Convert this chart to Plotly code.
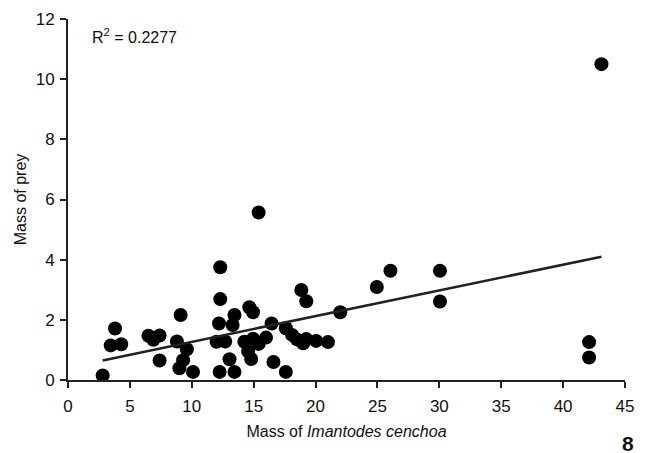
import numpy as np
import plotly.graph_objects as go

# Mass of Imantodes cenchoa (x) and mass of prey (y)
snake_mass = [
    2.8, 3.8, 3.45, 4.3, 6.5, 6.9, 7.4, 9.1, 8.8, 9.6,
    7.4, 9.3, 9.0, 10.1, 12.3, 12.2, 13.3, 12.0, 12.7, 13.05,
    12.25, 13.45, 13.45, 15.4, 12.3, 14.65, 14.95, 14.25, 14.95, 15.4,
    16.0, 14.55, 14.8, 16.45, 16.6, 17.6, 17.6, 18.1, 18.5, 19.0,
    19.25, 20.05, 21.0, 18.85, 19.25, 22.0, 24.95, 26.05, 30.05, 30.05,
    42.1, 42.1, 43.1,
]
prey_mass = [
    0.15, 1.71, 1.15, 1.19, 1.47, 1.34, 1.48, 2.16, 1.28, 1.02,
    0.65, 0.66, 0.39, 0.27, 2.69, 1.88, 1.83, 1.27, 1.28, 0.69,
    0.27, 0.27, 2.16, 5.57, 3.75, 2.42, 2.25, 1.27, 1.37, 1.2,
    1.41, 0.95, 0.7, 1.88, 0.6, 0.27, 1.72, 1.5, 1.35, 1.22,
    1.36, 1.3, 1.26, 2.99, 2.62, 2.25, 3.09, 3.63, 3.63, 2.61,
    1.26, 0.75, 10.5,
]
x_ticks = [0, 5, 10, 15, 20, 25, 30, 35, 40, 45]
y_ticks = [0, 2, 4, 6, 8, 10, 12]
r2_label = "R<sup>2</sup> = 0.2277"
panel_label = "8"

xs = np.array(snake_mass)
ys = np.array(prey_mass)
slope, intercept = np.polyfit(xs, ys, 1)
fit_x = np.array([xs.min(), xs.max()])
fit_y = slope * fit_x + intercept

FONT = "Liberation Sans, Arial, sans-serif"

fig = go.Figure()
fig.add_trace(go.Scatter(
    x=snake_mass, y=prey_mass, mode="markers",
    marker=dict(color="black", size=14, line=dict(width=0)),
    showlegend=False, hoverinfo="x+y",
))
fig.add_trace(go.Scatter(
    x=fit_x, y=fit_y, mode="lines",
    line=dict(color="#222222", width=2.6),
    showlegend=False, hoverinfo="skip",
))

axis_common = dict(
    showgrid=False, zeroline=False, showline=True, linecolor="#222222",
    linewidth=2, ticks="outside", ticklen=6, tickwidth=1.5, tickcolor="#222222",
    tickfont=dict(family=FONT, size=17, color="#111111"),
    automargin=False,
)
fig.update_xaxes(
    range=[0, 45], tickvals=x_ticks, ticktext=[str(v) for v in x_ticks],
    ticklabelstandoff=4,
    title=dict(text="Mass of <i>Imantodes cenchoa</i>", standoff=10,
               font=dict(family=FONT, size=16, color="#111111")),
    **axis_common,
)
fig.update_yaxes(
    range=[0, 12], tickvals=y_ticks, ticktext=[str(v) for v in y_ticks],
    ticklabelstandoff=2,
    title=dict(text="Mass of prey", standoff=5,
               font=dict(family=FONT, size=16, color="#111111")),
    **axis_common,
)
fig.update_layout(
    width=645, height=453,
    margin=dict(l=68, r=20, t=19, b=73, autoexpand=False),
    plot_bgcolor="white", paper_bgcolor="white",
    annotations=[
        dict(text=r2_label, xref="paper", yref="paper", x=0.04, y=0.953,
             xanchor="left", yanchor="middle", showarrow=False,
             font=dict(family=FONT, size=16, color="#111111")),
        dict(text="<b>" + panel_label + "</b>", xref="paper", yref="paper",
             x=1.005, y=-0.175, xanchor="center", yanchor="middle", showarrow=False,
             font=dict(family=FONT, size=21, color="#111111")),
    ],
)
fig.write_html(
    "out.html",
    config={"displayModeBar": False},
    post_script="document.body.style.margin='0';document.body.style.padding='0';",
)
